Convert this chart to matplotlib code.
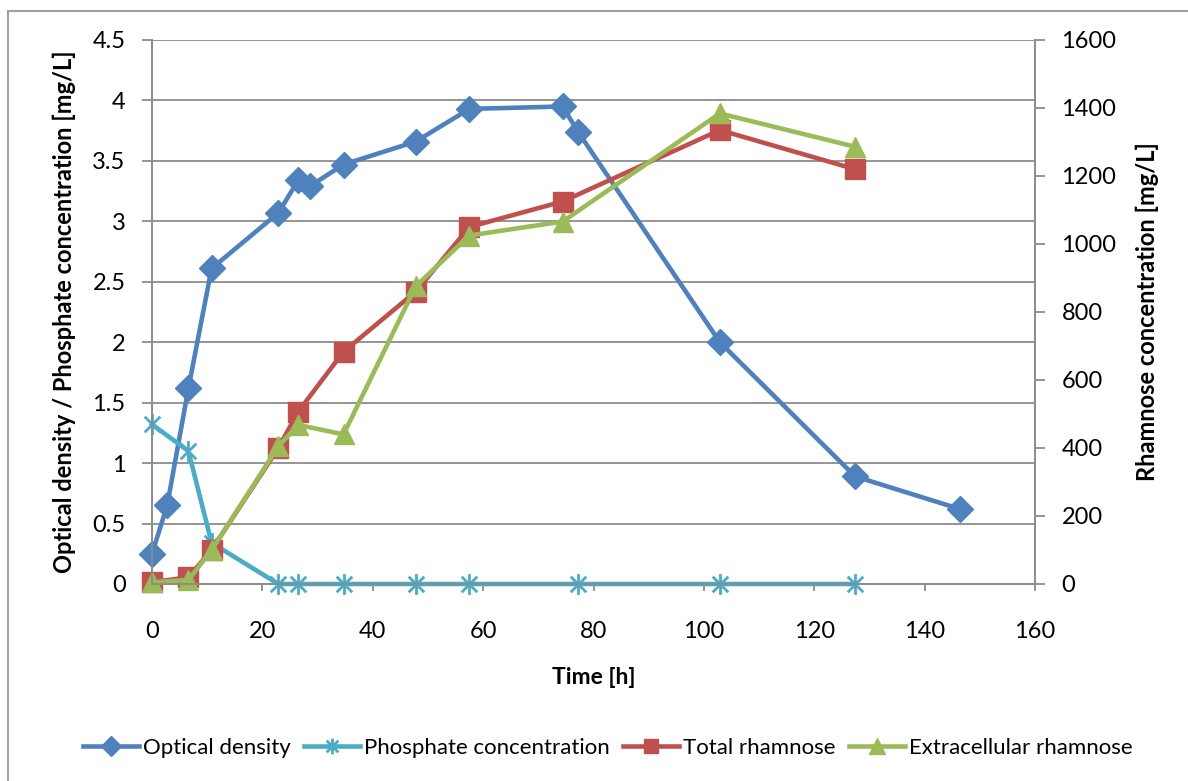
import matplotlib
matplotlib.use("Agg")
import matplotlib.pyplot as plt
from matplotlib.path import Path
from matplotlib.patches import Rectangle

plt.rcParams["font.family"] = ["Lato", "DejaVu Sans"]

# data
time_od = [0, 2.75, 6.6, 10.8, 22.9, 26.5, 28.6, 34.7, 47.8, 57.5, 74.4, 77.2, 102.9, 127.4, 146.4]
optical_density = [0.25, 0.65, 1.62, 2.61, 3.07, 3.34, 3.29, 3.47, 3.66, 3.93, 3.95, 3.74, 2.0, 0.89, 0.62]

time_phos = [0, 6.6, 10.8, 22.9, 26.5, 34.7, 47.8, 57.5, 77.2, 102.9, 127.4]
phosphate = [1.32, 1.1, 0.34, 0, 0, 0, 0, 0, 0, 0, 0]

time_rha = [0, 6.6, 10.8, 22.9, 26.5, 34.7, 47.8, 57.5, 74.4, 102.9, 127.4]
total_rha = [5, 20, 100, 400, 507, 683, 860, 1050, 1125, 1335, 1220]
extra_rha = [5, 12, 100, 405, 468, 440, 876, 1025, 1066, 1384, 1286]

c_od = "#4F81BD"
c_phos = "#4BACC6"
c_tot = "#C0504D"
c_ext = "#9BBB59"
grey = "#8C8C8C"

# Excel-like star marker: vertical bar plus an X
star = Path([(0, -1), (0, 1), (-0.75, -0.75), (0.75, 0.75), (-0.75, 0.75), (0.75, -0.75)],
            [Path.MOVETO, Path.LINETO, Path.MOVETO, Path.LINETO, Path.MOVETO, Path.LINETO])

fig = plt.figure(figsize=(11.88, 7.81), dpi=100)
fig.patches.append(Rectangle((8 / 1188, -0.05), 1.2, (781 - 11) / 781 + 0.05,
                             transform=fig.transFigure, fill=False,
                             edgecolor="#A0A0A0", linewidth=1.5))

ax = fig.add_axes([152 / 1188, (781 - 584) / 781, (1035 - 152) / 1188, (584 - 40) / 781])
ax2 = ax.twinx()

lw = 3.3
l1, = ax.plot(time_od, optical_density, color=c_od, lw=lw, marker="D", ms=13,
              label="Optical density", zorder=3, clip_on=False)
l2, = ax.plot(time_phos, phosphate, color=c_phos, lw=lw, marker=star, ms=15,
              mfc="none", mec=c_phos, mew=2, label="Phosphate concentration",
              zorder=3, clip_on=False)
l3, = ax2.plot(time_rha, total_rha, color=c_tot, lw=lw, marker="s", ms=14,
               label="Total rhamnose", clip_on=False)
l4, = ax2.plot(time_rha, extra_rha, color=c_ext, lw=lw, marker="^", ms=15,
               label="Extracellular rhamnose", clip_on=False)

ax.set_xlim(0, 160)
ax.set_ylim(0, 4.5)
ax2.set_ylim(0, 1600)
ax.set_xticks(range(0, 161, 20))
ax.set_yticks([i * 0.5 for i in range(10)])
ax.set_yticklabels(["0", "0.5", "1", "1.5", "2", "2.5", "3", "3.5", "4", "4.5"])
ax2.set_yticks(range(0, 1601, 200))

ax.grid(axis="y", color=grey, lw=1.3)
ax.set_axisbelow(True)

for a in (ax, ax2):
    a.spines["top"].set_visible(False)
    for s in ("left", "right", "bottom"):
        a.spines[s].set_color(grey)
        a.spines[s].set_linewidth(1.3)
    a.tick_params(colors=grey, labelcolor="black", labelsize=17, width=1.3, length=7)
ax.tick_params(axis="y", pad=12)
ax.tick_params(axis="x", length=5, pad=22)
ax2.tick_params(axis="y", pad=12)

ax.set_xlabel("Time [h]", fontsize=16.5, fontweight="bold", labelpad=18)
ax.set_ylabel("Optical density / Phosphate concentration [mg/L]", fontsize=17,
              fontweight="bold", labelpad=12)
ax2.set_ylabel("Rhamnose concentration [mg/L]", fontsize=17, fontweight="bold",
               labelpad=14)

fig.legend(handles=[l1, l2, l3, l4], loc="center", bbox_to_anchor=(608 / 1188, 1 - 748 / 781),
           ncol=4, frameon=False, fontsize=16, markerscale=0.75, handlelength=2.5,
           columnspacing=0.6, handletextpad=0.2)

fig.savefig("out.png", dpi=100)
